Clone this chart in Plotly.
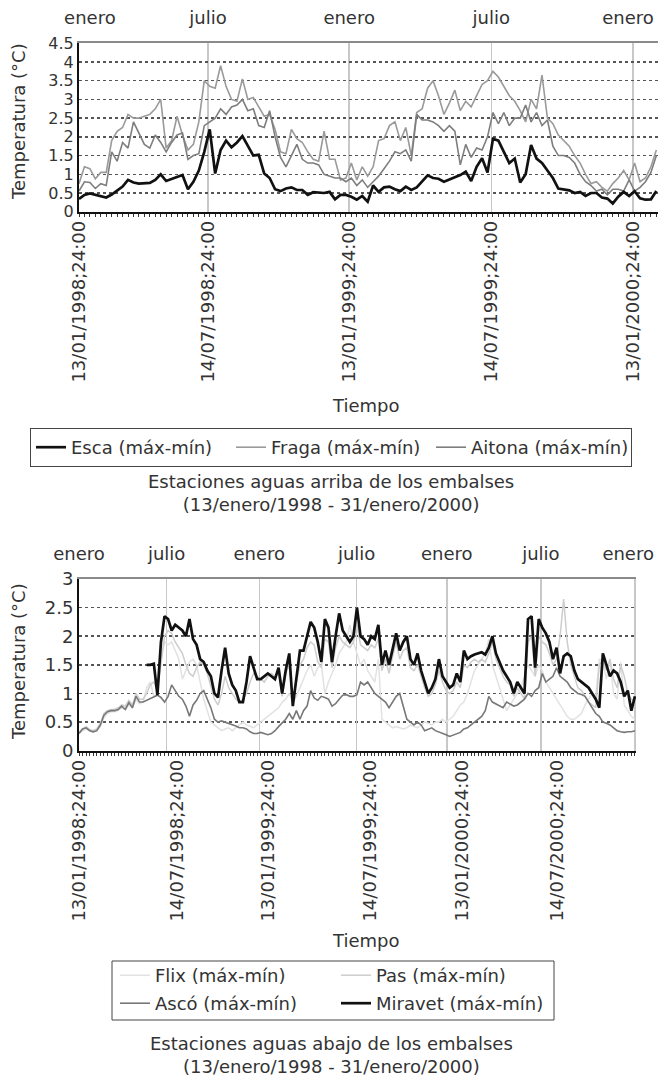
import plotly.graph_objects as go

W, H = 658, 1084


def px(x):
    return x / W


def py(y):
    return 1 - y / H


# ---------------- data: upstream stations (weekly index) ----------------
top_weeks = list(range(107))
esca = [0.34, 0.45, 0.49, 0.46, 0.42, 0.38, 0.46, 0.56, 0.67, 0.85,
        0.78, 0.75, 0.75, 0.77, 0.85, 1.0, 0.82, 0.87, 0.93, 0.98,
        0.6, 0.8, 1.1, 1.6, 2.2, 1.02, 1.65, 1.9, 1.72, 1.85,
        2.02, 1.75, 1.5, 1.52, 1.02, 0.9, 0.6, 0.55, 0.62, 0.65,
        0.58, 0.58, 0.45, 0.52, 0.5, 0.5, 0.53, 0.33, 0.45, 0.45,
        0.4, 0.32, 0.42, 0.27, 0.7, 0.53, 0.65, 0.67, 0.6, 0.55,
        0.67, 0.58, 0.65, 0.8, 0.97, 0.9, 0.88, 0.8, 0.85, 0.92,
        0.98, 1.07, 0.82, 1.2, 1.43, 1.05, 1.95, 1.9, 1.6, 1.3,
        1.42, 0.78, 1.0, 1.78, 1.42, 1.3, 1.1, 0.9, 0.62, 0.6,
        0.57, 0.5, 0.53, 0.42, 0.5, 0.5, 0.38, 0.35, 0.22, 0.4,
        0.53, 0.42, 0.55, 0.36, 0.32, 0.33, 0.55]
fraga = [0.75, 1.2, 1.15, 0.88, 1.05, 1.05, 1.9, 2.15, 2.25, 2.6,
         2.5, 2.5, 2.55, 2.6, 2.75, 3.0, 1.7, 1.9, 2.55, 2.05,
         1.65, 1.8, 2.4, 3.5, 3.35, 3.3, 3.9, 3.35, 3.0, 2.95,
         3.55, 3.0, 3.05, 2.8, 2.55, 2.6, 2.2, 1.6, 1.55, 2.2,
         1.95, 1.85, 1.6, 1.4, 1.35, 2.15, 1.4, 1.4, 0.85, 0.9,
         1.3, 0.85, 1.2, 0.95, 1.2, 1.9, 1.95, 2.3, 2.4, 1.9,
         2.25, 1.5, 2.65, 2.75, 3.3, 3.5, 3.1, 2.6, 2.9, 3.25,
         2.7, 2.95, 2.8, 3.1, 3.4, 3.5, 3.75, 3.6, 3.35, 3.1,
         2.95, 2.7, 2.4, 3.0, 2.75, 3.65, 2.5, 2.35, 2.05, 1.9,
         1.75, 1.5, 1.3, 1.0, 0.75, 0.8, 0.65, 0.55, 0.75, 0.9,
         1.1, 0.85, 1.3, 0.8, 0.9, 1.2, 1.65]
aitona = [0.55, 0.8, 0.78, 0.62, 0.75, 0.7, 1.6, 1.35, 1.85, 1.7,
          2.4, 2.1, 1.8, 1.7, 2.05, 1.85, 1.6, 1.85, 2.05, 2.1,
          1.4, 1.5, 1.55, 2.3, 2.4, 2.5, 2.75, 2.6, 2.8, 2.85,
          3.0, 2.7, 2.75, 2.3, 2.25, 2.7, 2.0, 1.45, 1.2, 1.5,
          1.8, 1.4, 1.3, 1.3, 1.25, 1.0, 0.95, 0.9, 0.9, 0.8,
          0.9, 0.7, 0.85, 0.65, 0.8, 0.95, 1.15, 1.35, 1.6, 1.55,
          1.65, 1.35, 2.6, 2.45, 2.45, 2.4, 2.3, 2.15, 2.3, 2.15,
          1.25, 1.8, 1.45, 1.7, 1.65, 2.0, 2.65, 2.35, 2.65, 2.3,
          2.5, 2.5, 2.85, 2.4, 2.65, 2.3, 2.45, 1.75, 1.5, 1.5,
          1.45, 1.3, 1.0, 0.8, 0.7, 0.55, 0.6, 0.45, 0.6, 0.6,
          0.55, 0.85, 0.55, 0.65, 0.8, 1.05, 1.5]
top_tick_pos = [0, 23.7, 49.6, 75.7, 101.7]
top_tick_text = ["13/01/1998;24:00", "14/07/1998;24:00", "13/01/1999;24:00",
                 "14/07/1999;24:00", "13/01/2000;24:00"]
top_month_pos = [2, 23.7, 49.6, 75.7, 100.8]
top_month_text = ["enero", "julio", "enero", "julio", "enero"]

# ---------------- data: downstream stations (weekly index) ----------------
bot_weeks = list(range(157))
flix = [0.3, 0.35, 0.38, 0.35, 0.33, 0.35, 0.42, 0.58, 0.65, 0.68,
        0.68, 0.7, 0.75, 0.72, 0.8, 0.75, 0.9, 0.82, 0.85,
        1.1, 1.2, 0.95, 1.0, 1.6, 1.9, 1.85, 1.9, 1.75, 1.6, 1.25,
        1.4, 1.55, 1.6, 1.5, 1.2, 0.9, 0.7, 0.5, 0.45, 0.4,
        0.35, 0.38, 0.4, 0.35, 0.4, 0.45, 0.5, 0.45, 0.42, 0.4,
        0.45, 0.5, 0.55, 0.6, 0.65, 0.7, 0.75, 0.85, 0.9, 1.0,
        0.85, 0.95, 1.1, 1.25, 1.4, 1.5, 1.3, 1.45, 1.5, 1.0,
        1.2, 1.35, 1.5, 1.7, 1.8, 1.9, 2.2, 1.9, 1.7, 1.5,
        1.6, 1.4, 1.3, 1.2, 1.6, 0.55, 0.5, 0.45, 0.4, 0.42,
        0.4, 0.38, 0.4, 0.45, 0.42, 0.4, 0.45, 0.5, 0.48, 0.45,
        0.5, 0.5, 0.55, 0.5, 0.55, 0.6, 0.7, 0.8, 0.85, 1.0,
        1.2, 1.4, 1.5, 1.6, 1.7, 1.95, 1.5, 1.3, 1.1, 0.9,
        0.7, 0.8, 0.9, 1.0, 1.1, 1.3, 1.5, 1.4, 1.3, 1.5,
        1.4, 1.2, 1.1, 1.0, 0.9, 0.8, 0.7, 0.6, 0.55, 0.55,
        0.6, 0.65, 0.8, 0.9, 1.0, 0.95, 1.6, 1.55, 1.25, 1.6,
        1.0, 0.9, 1.55, 0.8, 0.7, 0.6, 0.55]
pas = [0.32, 0.38, 0.42, 0.37, 0.35, 0.38, 0.48, 0.65, 0.7, 0.72,
       0.72, 0.75, 0.8, 0.78, 0.88, 0.8, 1.0, 0.9, 0.9,
       1.0, 1.15, 1.2, 1.05, 1.5, 2.0, 2.1, 2.05, 1.9, 1.8, 1.7,
       1.5, 1.35, 1.3, 1.45, 1.55, 1.5, 1.35, 1.1, 0.9, 0.8,
       1.0, 1.3, 1.1, 1.0, 0.9, 0.85, 0.9, 1.0, 1.2, 1.35,
       1.3, 1.25, 1.2, 1.3, 1.35, 1.3, 1.4, 0.95, 1.35, 1.5,
       0.85, 1.2, 1.5, 1.6, 1.8, 1.9, 1.85, 1.55, 1.45, 1.95,
       1.9, 1.45, 1.8, 2.0, 1.9, 1.85, 1.8, 1.9, 2.2, 1.85,
       1.8, 1.75, 1.85, 1.8, 1.95, 1.4, 1.6, 1.35, 1.65, 1.9,
       1.6, 1.75, 1.8, 1.45, 1.4, 1.5, 1.3, 1.1, 0.95, 1.0,
       1.15, 1.4, 1.2, 1.05, 1.0, 1.05, 1.2, 1.1, 1.5, 1.45,
       1.55, 1.6, 1.55, 1.6, 1.55, 1.7, 1.9, 1.6, 1.45, 1.3,
       1.2, 1.15, 0.95, 1.1, 1.0, 0.9, 1.9, 2.0, 1.3, 2.0,
       1.9, 1.85, 1.7, 1.5, 1.6, 2.0, 2.65, 1.9, 1.5, 1.3,
       1.1, 1.05, 0.95, 0.85, 0.8, 0.75, 1.5, 1.6, 1.4, 1.6,
       1.25, 1.1, 1.5, 1.3, 1.0, 0.9, 0.85]
asco = [0.3, 0.38, 0.4, 0.35, 0.33, 0.35, 0.45, 0.62, 0.68, 0.7,
        0.7, 0.72, 0.78, 0.72, 0.84, 0.75, 0.95, 0.85, 0.85, 0.88,
        0.92, 0.95, 0.97, 0.93, 0.85, 0.95, 1.15, 1.05, 0.95, 0.9,
        0.78, 0.6, 0.8, 0.88, 1.0, 1.05, 0.9, 0.75, 0.55, 0.5,
        0.52, 0.5, 0.48, 0.45, 0.43, 0.4, 0.4, 0.38, 0.33, 0.3,
        0.3, 0.32, 0.3, 0.28, 0.3, 0.35, 0.42, 0.48, 0.55, 0.65,
        0.55, 0.7, 0.55, 0.7, 0.78, 1.05, 0.92, 0.88, 0.95, 0.93,
        0.9, 0.78, 0.82, 0.9, 0.97, 0.98, 0.95, 0.95, 0.98, 1.2,
        1.15, 1.2, 1.1, 1.0, 0.95, 0.9, 0.85, 0.75, 0.85, 0.95,
        1.0, 0.75, 0.55, 0.5, 0.45, 0.5, 0.45, 0.35, 0.38, 0.4,
        0.35, 0.33, 0.3, 0.28, 0.25, 0.27, 0.3, 0.32, 0.38, 0.4,
        0.45, 0.5, 0.55, 0.6, 0.7, 0.95, 0.85, 0.82, 0.78, 0.75,
        0.85, 0.82, 0.78, 0.8, 0.85, 0.9, 1.0, 0.95, 1.05, 1.1,
        1.35, 1.2, 1.25, 1.3, 1.45, 1.3, 1.25, 1.2, 1.1, 1.05,
        1.0, 0.98, 0.95, 0.85, 0.75, 0.65, 0.6, 0.5, 0.48, 0.45,
        0.4, 0.35, 0.33, 0.32, 0.33, 0.33, 0.35]
miravet = [None] * 19 + [
    1.5,
    1.5, 1.52, 0.97, 1.9, 2.35, 2.3, 2.1, 2.2, 2.15, 2.1,
    2.0, 2.3, 1.95, 1.85, 1.6, 1.55, 1.4, 1.3, 1.0, 0.93,
    1.4, 1.8, 1.35, 1.15, 1.05, 0.85, 0.85, 1.2, 1.65, 1.45,
    1.25, 1.25, 1.3, 1.35, 1.3, 1.25, 1.45, 1.0, 1.4, 1.7,
    0.78, 1.3, 1.75, 1.75, 2.0, 2.25, 2.15, 1.9, 1.55, 2.3,
    2.15, 1.55, 2.0, 2.4, 2.1, 2.0, 1.9, 2.0, 2.5, 2.0,
    1.95, 1.85, 2.0, 1.95, 2.2, 1.5, 1.75, 1.5, 1.8, 2.05,
    1.75, 1.9, 2.0, 1.6, 1.5, 1.7, 1.4, 1.2, 1.0, 1.1,
    1.25, 1.6, 1.3, 1.2, 1.1, 1.15, 1.35, 1.2, 1.75, 1.6,
    1.65, 1.68, 1.7, 1.72, 1.68, 1.8, 2.0, 1.7, 1.55, 1.4,
    1.3, 1.2, 1.0, 1.2, 1.1, 1.0, 2.3, 2.35, 1.45, 2.3,
    2.15, 2.05, 1.9, 1.6, 1.8, 1.35, 1.65, 1.7, 1.65, 1.4,
    1.25, 1.2, 1.15, 1.1, 1.0, 0.9, 0.75, 1.7, 1.5, 1.3,
    1.4, 1.35, 1.2, 0.95, 1.05, 0.7, 0.95]
bot_tick_pos = [0, 27.5, 53, 81.6, 107.5, 134.1]
bot_tick_text = ["13/01/1998;24:00", "14/07/1998;24:00", "13/01/1999;24:00",
                 "14/07/1999;24:00", "13/01/2000;24:00", "14/07/2000;24:00"]
bot_grid_pos = [24.6, 50.6, 77.9, 103.2, 129.6, 156]
bot_month_pos = [0, 24.6, 50.6, 77.9, 103.2, 129.6, 154.1]
bot_month_text = ["enero", "julio", "enero", "julio", "enero", "julio", "enero"]

for s in (esca, fraga, aitona):
    assert len(s) == len(top_weeks), len(s)
for s in (flix, pas, asco, miravet):
    assert len(s) == len(bot_weeks), len(s)

FONT = "DejaVu Sans"
TXT = "#333333"
GRID_V = "#c8c8c8"
GRID_H = "#555555"

fig = go.Figure()

# upstream traces (grays on base x axis, black on the top-label overlay axis)
fig.add_trace(go.Scatter(x=top_weeks, y=fraga, mode="lines", name="Fraga (máx-mín)",
                         line=dict(color="#9a9a9a", width=1.6), legendrank=2,
                         xaxis="x", yaxis="y", legend="legend"))
fig.add_trace(go.Scatter(x=top_weeks, y=aitona, mode="lines", name="Aitona (máx-mín)",
                         line=dict(color="#7e7e7e", width=1.6), legendrank=3,
                         xaxis="x", yaxis="y", legend="legend"))
fig.add_trace(go.Scatter(x=top_weeks, y=esca, mode="lines", name="Esca (máx-mín)",
                         line=dict(color="#111111", width=2.7), legendrank=1,
                         xaxis="x2", yaxis="y", legend="legend"))

# downstream traces
fig.add_trace(go.Scatter(x=bot_weeks, y=flix, mode="lines", name="Flix (máx-mín)",
                         line=dict(color="#e2e2e2", width=1.5),
                         xaxis="x3", yaxis="y2", legend="legend2"))
fig.add_trace(go.Scatter(x=bot_weeks, y=pas, mode="lines", name="Pas (máx-mín)",
                         line=dict(color="#cdcdcd", width=1.5),
                         xaxis="x3", yaxis="y2", legend="legend2"))
fig.add_trace(go.Scatter(x=bot_weeks, y=asco, mode="lines", name="Ascó (máx-mín)",
                         line=dict(color="#787878", width=1.6),
                         xaxis="x4", yaxis="y2", legend="legend3"))
fig.add_trace(go.Scatter(x=bot_weeks, y=miravet, mode="lines", name="Miravet (máx-mín)",
                         line=dict(color="#111111", width=2.7), connectgaps=False,
                         xaxis="x5", yaxis="y2", legend="legend3"))

tickfont = dict(family=FONT, size=18, color=TXT)
minor = dict(tickmode="linear", tick0=0, dtick=1, ticks="outside", ticklen=3,
             tickcolor="#333333", tickwidth=1, showgrid=False)

TOP_R = 106.3
BOT_R = 156.3

fig.update_layout(
    width=W, height=H,
    margin=dict(l=0, r=0, t=0, b=0),
    paper_bgcolor="white", plot_bgcolor="white",
    font=dict(family=FONT, size=18, color=TXT),
    hovermode=False,
    # ---- upstream chart ----
    xaxis=dict(domain=[px(79), 1.0], range=[0, TOP_R], anchor="y",
               tickmode="array", tickvals=top_tick_pos, ticktext=top_tick_text,
               tickangle=-90, tickfont=tickfont, automargin=False,
               showgrid=True, gridcolor=GRID_V, gridwidth=1.5,
               showline=True, linecolor="#111111", linewidth=2,
               ticks="", zeroline=False, minor=minor),
    xaxis2=dict(overlaying="x", side="top", anchor="y", range=[0, TOP_R],
                tickmode="array", tickvals=top_month_pos, ticktext=top_month_text,
                tickfont=tickfont, automargin=False, showgrid=False,
                showline=True, linecolor="#8a8a8a", linewidth=2,
                ticks="outside", ticklen=10, tickcolor="rgba(0,0,0,0)",
                ticklabeloverflow="allow", zeroline=False),
    yaxis=dict(domain=[py(211.7), py(43.3)], range=[0, 4.5], anchor="x",
               tickmode="linear", tick0=0, dtick=0.5,
               tickfont=dict(family=FONT, size=16, color=TXT),
               automargin=False, showgrid=True, gridcolor=GRID_H, gridwidth=1.5,
               griddash="dot", showline=True, linecolor="#111111", linewidth=2,
               ticks="", zeroline=False),
    # ---- downstream chart ----
    xaxis3=dict(domain=[px(79), px(636)], range=[0, BOT_R], anchor="y2",
                tickmode="array", tickvals=bot_tick_pos, ticktext=bot_tick_text,
                tickangle=-90, tickfont=tickfont, automargin=False,
                showgrid=False, showline=True, linecolor="#111111", linewidth=2,
                ticks="", zeroline=False, minor=minor),
    xaxis4=dict(overlaying="x3", side="bottom", anchor="y2", range=[0, BOT_R],
                tickmode="array", tickvals=bot_grid_pos, showticklabels=False,
                automargin=False, showgrid=True, gridcolor=GRID_V, gridwidth=1.5,
                showline=False, ticks="", zeroline=False),
    xaxis5=dict(overlaying="x3", side="top", anchor="y2", range=[0, BOT_R],
                tickmode="array", tickvals=bot_month_pos, ticktext=bot_month_text,
                tickfont=tickfont, automargin=False, showgrid=False,
                showline=True, linecolor="#8a8a8a", linewidth=2,
                ticks="outside", ticklen=10, tickcolor="rgba(0,0,0,0)",
                ticklabeloverflow="allow", zeroline=False),
    yaxis2=dict(domain=[py(750.7), py(579)], range=[0, 3], anchor="x3",
                tickmode="linear", tick0=0, dtick=0.5, tickfont=tickfont,
                automargin=False, showgrid=True, gridcolor=GRID_H, gridwidth=1.5,
                griddash="dot", showline=True, linecolor="#111111", linewidth=2,
                ticks="", zeroline=False),
    # ---- legends ----
    legend=dict(orientation="h", x=px(30), xanchor="left", y=py(428), yanchor="top",
                bordercolor="#444444", borderwidth=1, bgcolor="white",
                entrywidth=155, entrywidthmode="pixels", itemwidth=30,
                traceorder="normal", font=dict(family=FONT, size=18, color=TXT)),
    legend2=dict(orientation="h", x=px(115), xanchor="left", y=py(957), yanchor="top",
                 borderwidth=0, bgcolor="rgba(0,0,0,0)",
                 entrywidth=176, entrywidthmode="pixels", itemwidth=30,
                 traceorder="normal", font=dict(family=FONT, size=18, color=TXT)),
    legend3=dict(orientation="h", x=px(115), xanchor="left", y=py(985), yanchor="top",
                 borderwidth=0, bgcolor="rgba(0,0,0,0)",
                 entrywidth=176, entrywidthmode="pixels", itemwidth=30,
                 traceorder="normal", font=dict(family=FONT, size=18, color=TXT)),
    showlegend=True,
)

# bottom legend frame
fig.add_shape(type="rect", xref="paper", yref="paper",
              x0=px(112), x1=px(554), y0=py(1020), y1=py(961),
              line=dict(color="#444444", width=1), fillcolor="rgba(0,0,0,0)",
              layer="below")

ann_font = dict(family=FONT, size=18, color=TXT)
annotations = [
    dict(text="Temperatura (°C)", x=px(18), y=py(122), textangle=-90, font=ann_font),
    dict(text="Temperatura (°C)", x=px(18), y=py(662), textangle=-90, font=ann_font),
    dict(text="Tiempo", x=px(366), y=py(405), font=ann_font),
    dict(text="Tiempo", x=px(366), y=py(940), font=ann_font),
    dict(text="Estaciones aguas arriba de los embalses<br>(13/enero/1998 - 31/enero/2000)",
         x=px(331), y=py(493), font=ann_font),
    dict(text="Estaciones aguas abajo de los embalses<br>(13/enero/1998 - 31/enero/2000)",
         x=px(331), y=py(1055), font=ann_font),
]
for a in annotations:
    fig.add_annotation(xref="paper", yref="paper", showarrow=False,
                       xanchor="center", yanchor="middle", **a)

# remove the browser's default 8px body margin so the figure fills the window
fig.write_html("out.html",
               config={"displayModeBar": False, "staticPlot": True},
               post_script="document.body.style.margin='0';"
                           "document.body.style.overflow='hidden';")
